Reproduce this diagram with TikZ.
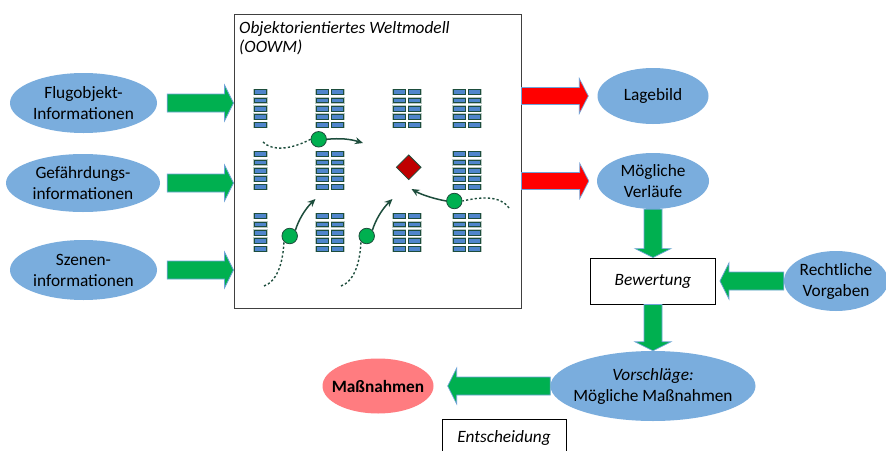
\documentclass[tikz,border=0pt]{standalone}
\usepackage{fontspec}
\setmainfont{Carlito}
\usetikzlibrary{shapes.geometric,arrows.meta,calc}
\definecolor{ellblue}{HTML}{7AADDD}
\definecolor{arrowgreen}{HTML}{00B050}
\definecolor{edgeblue}{HTML}{6FA3D8}
\definecolor{darkgreen}{HTML}{1D4D3C}
\definecolor{cellblue}{HTML}{4F85CC}
\definecolor{salmon}{HTML}{FF7C80}
\newcommand{\blockarrow}[5]{%
  \coordinate (ba0) at #2; \coordinate (ba1) at #3;
  \coordinate (ban) at ($(ba1)!9pt!(ba0)$);
  \draw[#1] ($(ba0)!#4pt!90:(ba1)$) -- ($(ban)!#4pt!90:(ba1)$) -- ($(ban)!#5pt!90:(ba1)$) -- (ba1)
    -- ($(ban)!#5pt!-90:(ba1)$) -- ($(ban)!#4pt!-90:(ba1)$) -- ($(ba0)!#4pt!-90:(ba1)$) -- cycle;}
\tikzset{
  blob/.style={ellipse,fill=ellblue,inner sep=0pt,inner xsep=-20pt,align=center,font=\fontsize{17.3}{21}\selectfont},
  boxed/.style={rectangle,draw=black,line width=0.8pt,fill=white,inner sep=0pt,font=\fontsize{17.3}{21}\selectfont\itshape},
  greenarrow/.style={fill=arrowgreen,draw=edgeblue,line width=0.7pt,line join=miter},
  redarrow/.style={fill=red,draw=edgeblue,line width=0.7pt,line join=miter},
  cell/.style={rectangle,draw=darkgreen,fill=cellblue,line width=0.7pt,minimum width=12.2pt,minimum height=4.8pt,inner sep=0pt,
    preaction={draw=darkgreen!30,line width=2pt}},
  mover/.style={circle,draw=darkgreen,fill=arrowgreen,line width=0.8pt,minimum size=15.5pt,inner sep=0pt},
  past/.style={draw=darkgreen,line width=1.4pt,dash pattern=on 2.2pt off 2.2pt},
  future/.style={draw=darkgreen,line width=1.5pt,-{Stealth[length=8pt,width=7pt]}},
}
\begin{document}
\begin{tikzpicture}[x=1pt,y=-1pt]
\clip (0,0) rectangle (886,450);
\fill[white] (0,0) rectangle (886,450);
% frame
\node[rectangle,draw=black!75,line width=1pt,fill=white,minimum width=287pt,minimum height=294pt,inner sep=0pt] (frame) at (377.5,161) {};
\node[anchor=north west,align=left,inner sep=0pt,font=\fontsize{17.3}{19}\selectfont\itshape] (title) at (239,21) {Objektorientiertes Weltmodell\\(OOWM)};
% ellipses
\node[blob,minimum width=147pt,minimum height=60pt] (flug) at (83.5,103) {Flugobjekt-\\Informationen};
\node[blob,minimum width=154pt,minimum height=58pt] (gef) at (83,183) {Gefährdungs-\\informationen};
\node[blob,minimum width=147pt,minimum height=60pt] (szen) at (83.5,270) {Szenen-\\informationen};
\node[blob,minimum width=111pt,minimum height=56pt] (lage) at (653,96) {Lagebild};
\node[blob,minimum width=112pt,minimum height=56pt] (verl) at (653,181) {Mögliche\\Verläufe};
\node[blob,minimum width=104pt,minimum height=60pt] (recht) at (836,281) {Rechtliche\\Vorgaben};
\node[blob,minimum width=205pt,minimum height=70pt] (vor) at (653,386) {\textit{Vorschläge:}\\Mögliche Maßnahmen};
\node[blob,fill=salmon,minimum width=111pt,minimum height=55pt,font=\fontsize{17.3}{21}\selectfont\bfseries] (mass) at (378,386) {Maßnahmen};
\node[boxed,minimum width=125pt,minimum height=46pt] (bew) at (653,281) {Bewertung};
\node[boxed,minimum width=124pt,minimum height=38pt] (ent) at (504,438) {Entscheidung};
% block arrows
\blockarrow{greenarrow}{($(flug.east)+(10,0)$)}{(frame.west |- flug.east)}{9}{18}
\blockarrow{greenarrow}{($(flug.east |- gef.east)+(10,0)$)}{(frame.west |- gef.east)}{9}{18}
\blockarrow{greenarrow}{($(szen.east)+(10,0)$)}{(frame.west |- szen.east)}{9}{18}
\blockarrow{redarrow}{(frame.east |- lage.west)}{($(lage.west)+(-9,0)$)}{8.5}{17.5}
\blockarrow{redarrow}{(frame.east |- verl.west)}{($(verl.west)+(-8,0)$)}{8.5}{17.5}
\blockarrow{greenarrow}{(verl.south)}{(bew.north)}{9}{18}
\blockarrow{greenarrow}{(bew.south)}{(vor.north)}{9}{18}
\blockarrow{greenarrow}{(recht.west)}{($(bew.east)+(4,0)$)}{9}{18}
\blockarrow{greenarrow}{(vor.west)}{($(mass.east)+(14,0)$)}{9}{18}
% cells
\foreach \gy/\gn in {92/t,154/m,216/b}{
  \foreach \r in {0,...,4}{
    \node[cell] (a\gn\r) at (260.5,\gy+8.25*\r) {};
    \node[cell] (b\gn\r) at (322.3,\gy+8.25*\r) {};
    \node[cell] (c\gn\r) at (337.7,\gy+8.25*\r) {};
    \node[cell] (f\gn\r) at (459.3,\gy+8.25*\r) {};
    \node[cell] (g\gn\r) at (474.7,\gy+8.25*\r) {};
  }
}
\foreach \gy/\gn in {92/t,216/b}{
  \foreach \r in {0,...,4}{
    \node[cell] (d\gn\r) at (399.3,\gy+8.25*\r) {};
    \node[cell] (e\gn\r) at (414.7,\gy+8.25*\r) {};
  }
}
% diamond
\node[diamond,draw=darkgreen,fill=red!75!black,line width=0.8pt,minimum width=25pt,minimum height=25pt,inner sep=0pt] (dia) at (408.7,167.3) {};
% movers
\node[mover] (m1) at (318.7,139.3) {};
\node[mover] (m2) at (289.7,236) {};
\node[mover] (m3) at (366.7,236) {};
\node[mover] (m4) at (454.3,201) {};
\coordinate (s1) at (263,142);
\coordinate (s2) at (264,286);
\coordinate (s3) at (341,286);
\coordinate (s4) at (509,208);
\coordinate (e1) at (363,143);
\coordinate (e2) at (315.5,199);
\coordinate (e3) at (392.5,199);
\coordinate (e4) at (411.5,189);
\draw[past] (s1) .. controls (272,151) and (290,150) .. (m1.west);
\draw[past] (s2) .. controls (276,282) and (283,265) .. (m2.south west);
\draw[past] (s3) .. controls (353,282) and (360,265) .. (m3.south west);
\draw[past] (s4) .. controls (500,195) and (480,197) .. (m4.east);
\draw[future] (m1.east) .. controls (340,138) and (350,139) .. (e1);
\draw[future] (m2.north east) .. controls (298,221) and (305,209) .. (e2);
\draw[future] (m3.north east) .. controls (375,221) and (382,209) .. (e3);
\draw[future] (m4.west) .. controls (435,199) and (422,195) .. (e4);
\end{tikzpicture}
\end{document}
